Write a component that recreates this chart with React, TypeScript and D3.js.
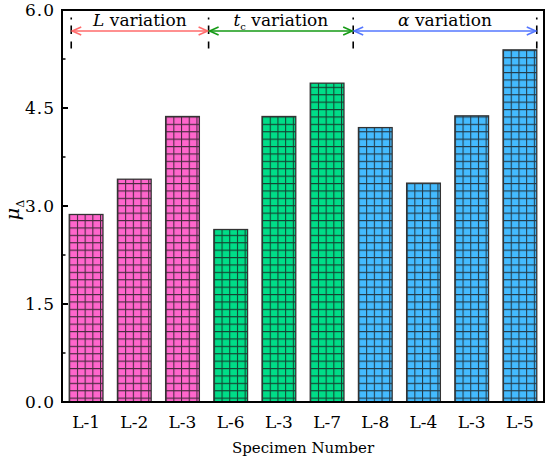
import * as d3 from 'd3';

// Data
const specimens = ['L-1', 'L-2', 'L-3', 'L-6', 'L-3', 'L-7', 'L-8', 'L-4', 'L-3', 'L-5'];
const muValues = [2.87, 3.41, 4.37, 2.64, 4.37, 4.88, 4.20, 3.35, 4.38, 5.39];
const groupOf = [0, 0, 0, 1, 1, 1, 2, 2, 2, 2];
const groupNames = ['L', 't', 'α'];
const yTicks = [0, 1.5, 3.0, 4.5, 6.0];
const yMinorTicks = [0.75, 2.25, 3.75, 5.25];

const barColors = ['#ff66cc', '#00dd88', '#44bbff'];
const arrowColors = ['#ff6b6b', '#159a15', '#5577ff'];

const width = 550;
const height = 459;
const margin = { top: 10, right: 6, bottom: 57, left: 62 };
const font = '"DejaVu Serif", "Liberation Serif", serif';

export default function App() {
    const innerRight = width - margin.right;
    const innerBottom = height - margin.bottom;

    const x = d3.scaleBand<number>()
        .domain(specimens.map((_, i) => i))
        .range([margin.left, innerRight])
        .paddingInner(0.3)
        .paddingOuter(0.15);

    const y = d3.scaleLinear()
        .domain([0, 6])
        .range([innerBottom, margin.top]);

    const bw = x.bandwidth();
    const step = x.step();

    // group boundaries for the dashed separators
    const bounds: number[] = [];
    groupNames.forEach((_, g) => {
        const first = groupOf.indexOf(g);
        if (g === 0) bounds.push((x(first) || 0) + 2);
        else bounds.push((x(first) || 0) - (step - bw) / 2 + 2);
    });
    bounds.push((x(specimens.length - 1) || 0) + bw);

    const arrowY = 31;
    const head = (px: number, dir: number) =>
        `M${px + dir * 9},${arrowY - 4} L${px},${arrowY} L${px + dir * 9},${arrowY + 4}`;

    const cellW = 7.7;
    const cellH = 7.4;
    const txt = { fontFamily: font };

    return (
        <svg width={width} height={height}
            style={{ position: 'absolute', left: 0, top: 0, background: '#fff', fontFamily: font }}>
            <defs>
                {specimens.map((_, i) => {
                    const bx = x(i) || 0;
                    return (
                        <pattern key={i} id={`grid-${i}`} patternUnits="userSpaceOnUse"
                            x={bx} y={innerBottom + 3} width={cellW} height={cellH}>
                            <rect width={cellW} height={cellH} fill={barColors[groupOf[i]]} />
                            <path d={`M0.5,0 V${cellH} M0,0.5 H${cellW}`}
                                stroke="#1a1a1a" strokeOpacity={0.8} strokeWidth={1.1} fill="none" />
                        </pattern>
                    );
                })}
            </defs>

            {/* Bars */}
            {muValues.map((v, i) => (
                <rect key={i}
                    x={x(i)} y={y(v)} width={bw} height={innerBottom - y(v)}
                    fill={`url(#grid-${i})`} stroke="#333" strokeWidth={1.3} />
            ))}

            {/* Frame */}
            <rect x={margin.left} y={margin.top}
                width={innerRight - margin.left} height={innerBottom - margin.top}
                fill="none" stroke="#000" strokeWidth={2} />

            {/* Y ticks */}
            {yTicks.map(t => (
                <g key={t}>
                    <line x1={margin.left} x2={margin.left + 6} y1={y(t)} y2={y(t)} stroke="#000" strokeWidth={2} />
                    <text x={margin.left - 7} y={y(t)} dy="0.35em" textAnchor="end"
                        style={txt} fontSize={17} letterSpacing={1}>{t.toFixed(1)}</text>
                </g>
            ))}
            {yMinorTicks.map(t => (
                <line key={t} x1={margin.left} x2={margin.left + 3.5} y1={y(t)} y2={y(t)} stroke="#000" strokeWidth={1.5} />
            ))}

            {/* X labels */}
            {specimens.map((s, i) => (
                <text key={i} x={(x(i) || 0) + bw / 2} y={428} textAnchor="middle"
                    style={txt} fontSize={17}>{s}</text>
            ))}

            <text x={(margin.left + innerRight) / 2} y={453} textAnchor="middle"
                style={txt} fontSize={15}>Specimen Number</text>

            <text transform={`translate(19,${(margin.top + innerBottom) / 2 + 4}) rotate(-90)`}
                textAnchor="middle" style={txt} fontSize={19}>
                <tspan fontStyle="italic">μ</tspan>
                <tspan fontSize={11} dy={5}>Δ</tspan>
            </text>

            {/* Group annotations */}
            {bounds.map((bx, i) => (
                <line key={i} x1={bx} x2={bx} y1={17.5} y2={49}
                    stroke="#000" strokeWidth={1.6} strokeDasharray="2,6,8.5,7.5,7" />
            ))}
            {groupNames.map((g, i) => {
                const x0 = bounds[i] + 1;
                const x1 = bounds[i + 1] - 1;
                const mid = (x0 + x1) / 2;
                return (
                    <g key={g}>
                        <line x1={x0} x2={x1} y1={arrowY} y2={arrowY} stroke={arrowColors[i]} strokeWidth={1.6} />
                        <path d={head(x0, 1)} stroke={arrowColors[i]} strokeWidth={1.6} fill="none" />
                        <path d={head(x1, -1)} stroke={arrowColors[i]} strokeWidth={1.6} fill="none" />
                        <text x={mid} y={26} textAnchor="middle" style={txt} fontSize={17}>
                            <tspan fontStyle="italic">{g}</tspan>
                            {i === 1 && <tspan fontSize={10} dy={4}>c</tspan>}
                            <tspan dy={i === 1 ? -4 : 0}> variation</tspan>
                        </text>
                    </g>
                );
            })}
        </svg>
    );
}
